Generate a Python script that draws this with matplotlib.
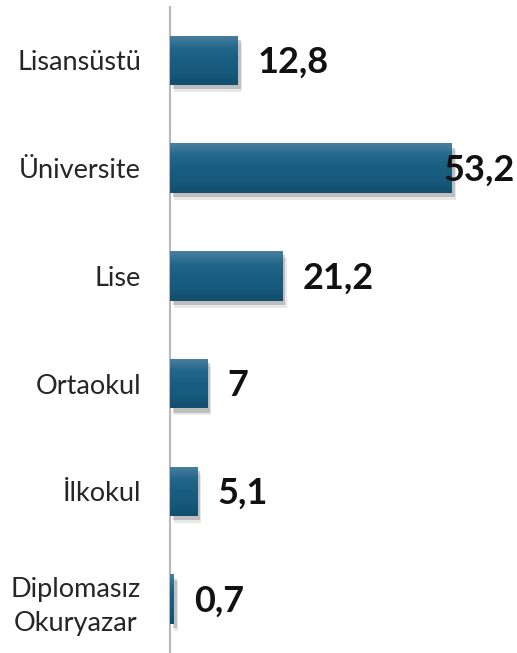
import numpy as np
import matplotlib.pyplot as plt
from matplotlib import patheffects as pe
from matplotlib.colors import LinearSegmentedColormap

categories = ['Lisansüstü', 'Üniversite', 'Lise', 'Ortaokul', 'İlkokul',
              'Diplomasız\nOkuryazar']
values = [12.8, 53.2, 21.2, 7, 5.1, 0.7]
value_labels = ['12,8', '53,2', '21,2', '7', '5,1', '0,7']

plt.rcParams['font.family'] = ['Lato', 'DejaVu Sans']

fig = plt.figure(figsize=(5.17, 6.53), dpi=100)
ax = fig.add_axes([0.329, 0.0, 0.671, 0.99])

y = np.arange(len(categories))
xmax = 65.5

# vertical gradient for the bars: lighter top edge, dark body
cmap = LinearSegmentedColormap.from_list(
    'bar', ['#4a809f', '#23678a', '#1a5d80', '#175a7c', '#134e6d'])
grad = np.linspace(0, 1, 64).reshape(-1, 1)

shadow = [pe.SimplePatchShadow(offset=(2, -3), shadow_rgbFace='#444444', alpha=0.25),
          pe.SimplePatchShadow(offset=(3, -5), shadow_rgbFace='#444444', alpha=0.12),
          pe.Normal()]
bars = ax.barh(y, values, height=0.46, color='#1a5d80', zorder=2, path_effects=shadow)
for b in bars:
    x0, y0 = b.get_x(), b.get_y()
    w, h = b.get_width(), b.get_height()
    im = ax.imshow(grad, cmap=cmap, aspect='auto', extent=(x0, x0 + w, y0 + h, y0),
                   zorder=3, interpolation='bicubic')
    im.set_clip_path(b)
ax.set_xlim(0, xmax)
ax.set_ylim(len(categories) - 0.5, -0.5)

# value labels (the longest bar gets its label pulled inside the plot area)
for yi, v, lab in zip(y, values, value_labels):
    if v + 14 > xmax:
        ax.text(xmax - 0.5, yi + 0.02, lab, ha='right', va='center', fontsize=26,
                fontweight='bold', color='#111111', zorder=4)
    else:
        ax.text(v + 3.8, yi + 0.02, lab, ha='left', va='center', fontsize=26,
                fontweight='bold', color='#111111', zorder=4)

ax.set_yticks(y)
ax.set_yticklabels(categories, fontsize=19.5, color='#262626', linespacing=1.45,
                   multialignment='center')
ax.tick_params(axis='y', length=0, pad=21)
ax.set_xticks([])
for s in ['top', 'right', 'bottom']:
    ax.spines[s].set_visible(False)
ax.spines['left'].set_color('#b8b8b8')
ax.spines['left'].set_linewidth(1.5)
ax.patch.set_alpha(0)

fig.savefig('out.png', dpi=100)
